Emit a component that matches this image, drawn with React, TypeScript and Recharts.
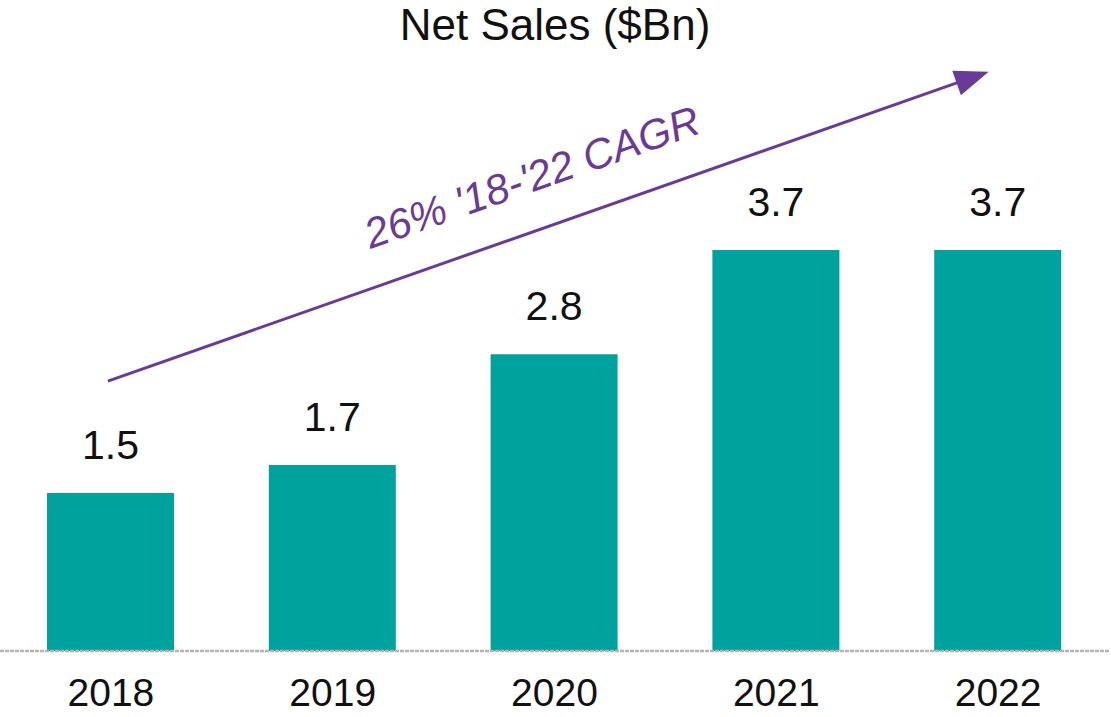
import React from "react";
import {
  BarChart,
  Bar,
  XAxis,
  YAxis,
  LabelList,
  ReferenceLine,
  Customized,
} from "recharts";

const years = ["2018", "2019", "2020", "2021", "2022"];
const netSales = [1.47, 1.73, 2.76, 3.73, 3.73];
const cagrStart = 2.52;
const cagrEnd = 5.42;
const cagrLabel = "26% '18-'22 CAGR";
const title = "Net Sales ($Bn)";

const data = years.map((y, i) => ({ year: y, sales: netSales[i] }));

const FONT = "'Liberation Sans', Arial, sans-serif";
const PURPLE = "#6A3A98";

// arrow + rotated CAGR label, drawn from the segment ends recharts gives us
function CagrArrow(props: any) {
  const { x1, y1, x2, y2 } = props;
  const dx = x2 - x1;
  const dy = y2 - y1;
  const len = Math.sqrt(dx * dx + dy * dy);
  const ux = dx / len;
  const uy = dy / len;
  // tip a bit short of the category centre
  const tx = x2 - ux * 10;
  const ty = y2 - uy * 10;
  const head = 34;
  const half = 13;
  const bx = tx - ux * head;
  const by = ty - uy * head;
  const nx = -uy;
  const ny = ux;
  const angle = (Math.atan2(dy, dx) * 180) / Math.PI;
  const mx = x1 + dx * 0.494 + uy * 52;
  const my = y1 + dy * 0.494 - ux * 52;
  return (
    <g>
      <line x1={x1 - 3} y1={y1 + 1} x2={bx + ux * 4} y2={by + uy * 4} stroke={PURPLE} strokeWidth={3} />
      <polygon
        points={`${tx},${ty} ${bx + nx * half},${by + ny * half} ${bx - nx * half},${by - ny * half}`}
        fill={PURPLE}
      />
      <text
        x={mx}
        y={my}
        transform={`rotate(${angle} ${mx} ${my})`}
        textAnchor="middle"
        dominantBaseline="central"
        fontFamily={FONT}
        fontStyle="italic"
        fontSize={42}
        fill={PURPLE}
      >
        {cagrLabel}
      </text>
    </g>
  );
}

function Title() {
  return (
    <text x={555} y={40} textAnchor="middle" fontFamily={FONT} fontSize={44} fill="#111">
      {title}
    </text>
  );
}

export default function App() {
  return (
    <div style={{ position: "absolute", left: 0, top: 0, background: "#fff" }}>
      <BarChart
        width={1111}
        height={717}
        data={data}
        margin={{ top: 6, right: 2, bottom: 0, left: 0 }}
      >
        <XAxis
          dataKey="year"
          height={66}
          tickLine={false}
          tickSize={6}
          tickMargin={21}
          axisLine={{ stroke: "#B4B4B4", strokeWidth: 2.5, strokeDasharray: "4 1" }}
          tick={{ fontSize: 39, fill: "#111", fontFamily: FONT }}
        />
        <YAxis hide domain={[0, 6]} />
        <Bar dataKey="sales" fill="#00A29D" barSize={127} isAnimationActive={false}>
          <LabelList
            dataKey="sales"
            position="top"
            offset={34}
            formatter={(v: any) => Number(v).toFixed(1)}
            style={{ fontSize: 41, fill: "#111", fontFamily: FONT }}
          />
        </Bar>
        <ReferenceLine
          segment={[
            { x: years[0], y: cagrStart },
            { x: years[years.length - 1], y: cagrEnd },
          ]}
          ifOverflow="visible"
          shape={(p: any) => <CagrArrow {...p} />}
        />
        <Customized component={Title} />
      </BarChart>
    </div>
  );
}
